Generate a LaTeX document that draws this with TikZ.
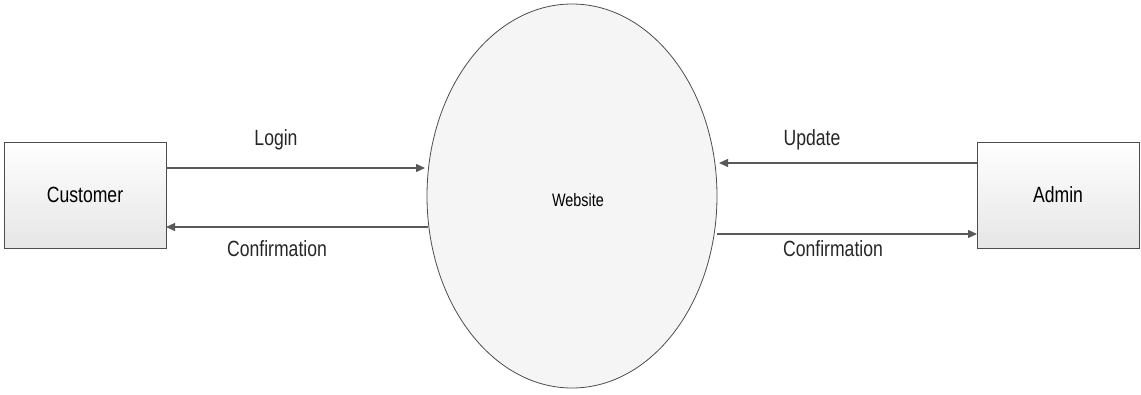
\documentclass[tikz,border=0pt]{standalone}
\usepackage{fontspec}
\setmainfont{Liberation Sans}[FakeStretch=0.8]
\usetikzlibrary{shapes.geometric,arrows.meta}
\begin{document}
\begin{tikzpicture}[x=1pt,y=-1pt,
  entity/.style={draw=black!70,line width=0.8pt,top color=white,bottom color=black!10,minimum width=162pt,minimum height=106pt,inner sep=0pt,font=\fontsize{22}{24}\selectfont},
  process/.style={ellipse,draw=black!70,line width=0.8pt,fill=black!4,minimum width=290pt,minimum height=384pt,inner sep=0pt,font=\fontsize{18}{20}\selectfont},
  flow/.style={draw=black!65,line width=1.2pt,-{Triangle[length=9pt,width=8pt]}},
  lbl/.style={font=\fontsize{22}{24}\selectfont,text=black!85}]
\useasboundingbox (0,0) rectangle (1141,394);
\node[entity] (cust) at (85,195) {Customer};
\node[entity] (admin) at (1058,195) {Admin};
\node[process] (web) at (572,196) {};
\node[font=\fontsize{18}{20}\selectfont] (webl) at (578,200) {Website};
\coordinate (a1) at (166,168);
\coordinate (a2) at (425,168);
\coordinate (b1) at (428,227);
\coordinate (b2) at (166,227);
\coordinate (c1) at (977,163);
\coordinate (c2) at (719,163);
\coordinate (d1) at (717,234);
\coordinate (d2) at (977,234);
\draw[flow] (a1) -- (a2);
\draw[flow] (b1) -- (b2);
\draw[flow] (c1) -- (c2);
\draw[flow] (d1) -- (d2);
\node[lbl] (l1) at (276,140) {Login};
\node[lbl] (l2) at (277,249) {Confirmation};
\node[lbl] (l3) at (812,140) {Update};
\node[lbl] (l4) at (833,249) {Confirmation};
\end{tikzpicture}
\end{document}
